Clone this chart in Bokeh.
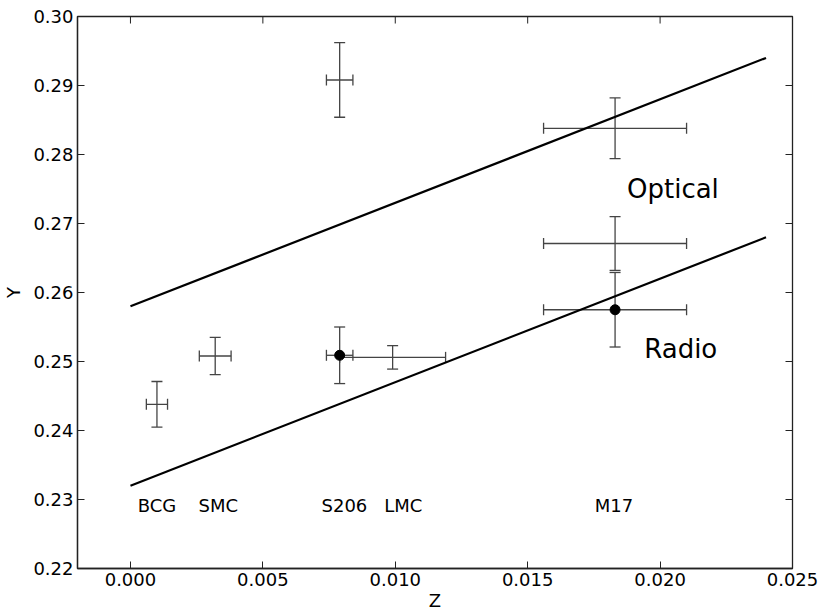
import math
from bokeh.plotting import figure
from bokeh.models import (ColumnDataSource, Whisker, TeeHead, FixedTicker,
                          PrintfTickFormatter, Range1d)
from bokeh.core.properties import value
from bokeh.embed import file_html
from bokeh.resources import INLINE

# ---- data ----
x_ticks = [0.000, 0.005, 0.010, 0.015, 0.020, 0.025]
y_ticks = [0.22, 0.23, 0.24, 0.25, 0.26, 0.27, 0.28, 0.29, 0.30]

# open points (no marker, error bars only)
open_z = [0.0010, 0.0032, 0.0099, 0.0079, 0.0183, 0.0183]
open_y = [0.2438, 0.2508, 0.2506, 0.2908, 0.2838, 0.2671]
open_yerr = [0.0033, 0.0027, 0.0017, 0.0054, 0.0044, 0.0039]
open_zerr = [0.0004, 0.0006, 0.0020, 0.0005, 0.0027, 0.0027]

# filled (radio) points
radio_z = [0.0079, 0.0183]
radio_y = [0.2509, 0.2575]
radio_yerr = [0.0041, 0.0054]
radio_zerr = [0.0005, 0.0027]

# fitted lines
line_z = [0.0, 0.024]
optical_line_y = [0.258, 0.294]
radio_line_y = [0.232, 0.268]

# object labels
obj_names = ["BCG", "SMC", "S206", "LMC", "M17"]
obj_z = [0.0010, 0.00332, 0.00808, 0.0103, 0.01826]
obj_y = [0.2291, 0.2291, 0.2291, 0.2291, 0.2291]

line_labels = ["Optical", "Radio"]
line_label_z = [0.01875, 0.0194]
line_label_y = [0.2750, 0.2518]

FONT = "DejaVu Sans"
ERR_COLOR = "#444444"
AX_COLOR = "#222222"

p = figure(width=821, height=613, output_backend="svg", toolbar_location=None,
           x_range=Range1d(-0.002, 0.025), y_range=Range1d(0.22, 0.30),
           min_border_left=77, min_border_right=29, min_border_top=16, min_border_bottom=45)
p.grid.visible = False
p.background_fill_color = "white"
p.border_fill_color = "white"
p.outline_line_color = AX_COLOR
p.outline_line_width = 1.3

for ax in (p.xaxis[0], p.yaxis[0]):
    ax.major_tick_in = 7
    ax.major_tick_out = 0
    ax.minor_tick_in = 0
    ax.minor_tick_out = 0
    ax.axis_line_color = AX_COLOR
    ax.axis_line_width = 1.3
    ax.major_tick_line_color = AX_COLOR
    ax.major_tick_line_width = 1
    ax.major_label_text_font = FONT
    ax.major_label_text_font_size = "18px"
    ax.major_label_text_color = "black"
    ax.axis_label_text_font = FONT
    ax.axis_label_text_font_size = "18px"
    ax.axis_label_text_font_style = "normal"
    ax.axis_label_text_color = "black"

xa = p.xaxis[0]
ya = p.yaxis[0]
xa.ticker = FixedTicker(ticks=x_ticks)
ya.ticker = FixedTicker(ticks=y_ticks)
xa.formatter = PrintfTickFormatter(format="%.3f")
ya.formatter = PrintfTickFormatter(format="%.2f")
xa.axis_label = "Z"
ya.axis_label = "Y"
xa.major_label_standoff = 4
ya.major_label_standoff = 4
xa.axis_label_standoff = 1
ya.axis_label_standoff = 6

# inward ticks on top and right edges (half of each dash is clipped by the frame)
p.scatter(x_ticks, [y_ticks[-1]] * len(x_ticks), marker="dash", angle=math.pi / 2,
          size=14, line_color=AX_COLOR, line_width=1)
p.scatter([x_ticks[-1]] * len(y_ticks), y_ticks, marker="dash",
          size=14, line_color=AX_COLOR, line_width=1)

# lines
p.line(line_z, optical_line_y, line_color="black", line_width=2.2)
p.line(line_z, radio_line_y, line_color="black", line_width=2.2)

def add_errors(z, y, zerr, yerr):
    src = ColumnDataSource(dict(
        z=z, y=y,
        ylo=[a - b for a, b in zip(y, yerr)], yhi=[a + b for a, b in zip(y, yerr)],
        zlo=[a - b for a, b in zip(z, zerr)], zhi=[a + b for a, b in zip(z, zerr)],
    ))
    for dim, base, lo, hi in (("height", "z", "ylo", "yhi"), ("width", "y", "zlo", "zhi")):
        w = Whisker(source=src, base=base, lower=lo, upper=hi, dimension=dim,
                    line_color=ERR_COLOR, line_width=1.3,
                    lower_head=TeeHead(size=11, line_color=ERR_COLOR, line_width=1.3),
                    upper_head=TeeHead(size=11, line_color=ERR_COLOR, line_width=1.3))
        p.add_layout(w)
    return src

add_errors(open_z, open_y, open_zerr, open_yerr)
rsrc = add_errors(radio_z, radio_y, radio_zerr, radio_yerr)
p.scatter("z", "y", source=rsrc, size=10, fill_color="black", line_color="black")

# labels
p.text(obj_z, obj_y, text=obj_names, text_font=value(FONT), text_font_size="18px",
       text_align="center", text_baseline="alphabetic", text_color="black")
p.text(line_label_z, line_label_y, text=line_labels, text_font=value(FONT),
       text_font_size="26px", text_align="left", text_baseline="alphabetic",
       text_color="black")

open("out.html", "w").write(file_html(p, INLINE))
